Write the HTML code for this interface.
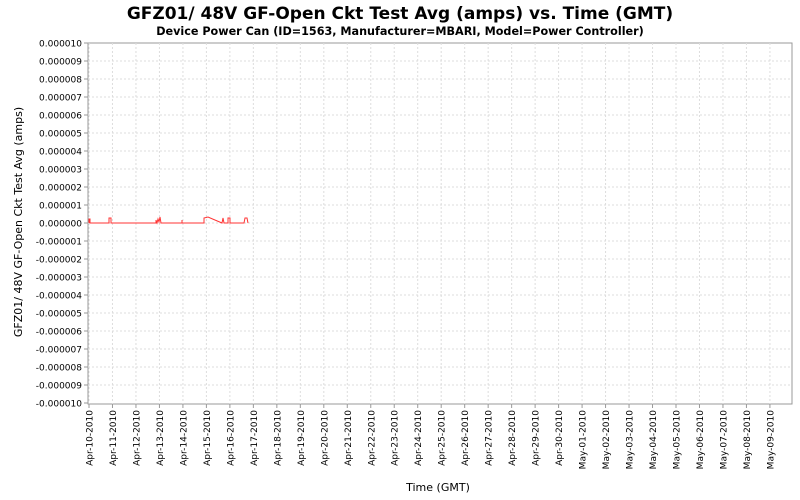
<!DOCTYPE html>
<html><head><style>body{margin:0;background:#fff}svg{display:block}text{font-family:"DejaVu Sans","Liberation Sans",sans-serif}</style></head><body>
<svg width="800" height="500" xmlns="http://www.w3.org/2000/svg">
<text x="400" y="19" text-anchor="middle" font-size="17" font-weight="bold">GFZ01/ 48V GF-Open Ckt Test Avg (amps) vs. Time (GMT)</text>
<text x="400" y="35" text-anchor="middle" font-size="11.2" font-weight="bold">Device Power Can (ID=1563, Manufacturer=MBARI, Model=Power Controller)</text>
<rect x="88" y="43" width="704" height="361" fill="#fff" stroke="#999"/>
<g id="g" stroke="#ddd" stroke-dasharray="2,2"></g>
<g id="yl" font-size="9" text-anchor="end"></g>
<g id="xl" font-size="9"></g>
<text x="22" y="222" font-size="11" text-anchor="middle" transform="rotate(-90 22 222)">GFZ01/ 48V GF-Open Ckt Test Avg (amps)</text>
<text x="438" y="491" font-size="11" text-anchor="middle">Time (GMT)</text>
<polyline fill="none" stroke="#f33" stroke-width="1" points="89,223 89,219 90,219 90,223 109,223 109,218 111,218 111,223 156,223 156,220 157,223 158,219 159,222 160,217 161,223 182,223 182,220 182,223 204,223 204,218 208,217 222,223 223,218 224,223 228,223 228,218 230,218 230,223 244,223 245,218 247,218 248,223"/>
<script>
var g=document.getElementById('g'),yl=document.getElementById('yl'),xl=document.getElementById('xl'),ns='http://www.w3.org/2000/svg';
function el(t,a,p,txt){var e=document.createElementNS(ns,t);for(var k in a)e.setAttribute(k,a[k]);if(txt)e.textContent=txt;p.appendChild(e);return e;}
for(var i=0;i<=20;i++){var v=10-i,y=43+i*18;
 if(i>0&&i<20)el('line',{x1:88,x2:792,y1:y,y2:y},g);
 el('line',{x1:84,x2:88,y1:y,y2:y,stroke:'#999'},document.querySelector('svg'));
 var s=(v<0?'-':'')+'0.0000'+(Math.abs(v)<10?'0'+Math.abs(v):Math.abs(v));
 el('text',{x:82,y:y+3.5},yl,s);}
for(var d=0;d<30;d++){var x=89+d*23.48;
 var day=10+d,mo='Apr';if(day>30){day-=30;mo='May';}
 el('line',{x1:x,x2:x,y1:43,y2:404},g);
 el('line',{x1:x,x2:x,y1:404,y2:408,stroke:'#999'},document.querySelector('svg'));
 el('text',{x:0,y:0,'text-anchor':'end',transform:'translate('+(x+3.5)+',410) rotate(-90)'},xl,mo+'-'+(day<10?'0'+day:day)+'-2010');}
</script>
</svg></body></html>
